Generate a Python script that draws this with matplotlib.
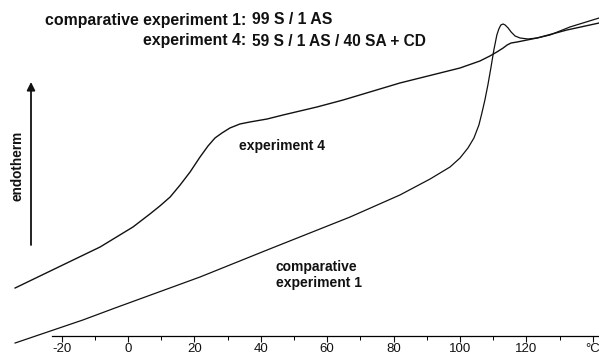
import matplotlib
matplotlib.use("Agg")
import matplotlib.pyplot as plt

plt.rcParams['font.family'] = ['Liberation Sans', 'DejaVu Sans']

# DSC traces: temperature (°C) vs heat flow (arbitrary units, endotherm up)
temp_exp4 = [-34.0, -18.4, -8.4, 1.5, 6.6, 9.6, 12.7, 15.7, 18.7, 21.7, 24.1, 26.2,
             28.3, 30.7, 33.7, 36.7, 41.9, 46.7, 56.9, 64.8, 81.9, 100.0, 106.0,
             109.0, 111.1, 113.0, 114.2, 115.4, 117.2, 120.2, 123.2, 132.2, 141.9]
flow_exp4 = [0.48, 0.73, 0.89, 1.09, 1.22, 1.30, 1.39, 1.51, 1.64, 1.79, 1.90, 1.98,
             2.03, 2.08, 2.12, 2.14, 2.17, 2.21, 2.29, 2.36, 2.53, 2.68, 2.75,
             2.80, 2.84, 2.88, 2.91, 2.93, 2.94, 2.96, 2.98, 3.06, 3.13]

temp_comp1 = [-34.0, -13.6, -3.9, 21.7, 41.9, 66.9, 81.9, 91.0, 97.0, 100.0, 102.4,
              104.2, 105.7, 106.6, 107.5, 108.4, 109.3, 110.2, 111.1, 111.7, 112.3,
              113.0, 113.6, 114.5, 115.4, 116.6, 118.1, 120.5, 123.2, 127.1, 133.1, 141.9]
flow_comp1 = [-0.07, 0.16, 0.28, 0.59, 0.86, 1.19, 1.41, 1.57, 1.69, 1.78, 1.88,
              1.98, 2.11, 2.23, 2.36, 2.51, 2.68, 2.86, 3.01, 3.07, 3.11,
              3.12, 3.11, 3.08, 3.04, 3.00, 2.98, 2.97, 2.98, 3.01, 3.09, 3.18]

major_ticks = [-20, 0, 20, 40, 60, 80, 100, 120, 140]
major_labels = ['-20', '0', '20', '40', '60', '80', '100', '120', '°C']
minor_ticks = [-10, 10, 30, 50, 70, 90, 110, 130]

W, H = 599, 356
fig = plt.figure(figsize=(W / 100, H / 100), dpi=100)
ax = fig.add_axes([0, 0, 1, 1])
ax.set_xlim(-38.55, 141.87)
ax.set_ylim(-0.20, 3.36)

ax.plot(temp_exp4, flow_exp4, color='#111111', lw=1.0, solid_joinstyle='round')
ax.plot(temp_comp1, flow_comp1, color='#111111', lw=0.9, solid_joinstyle='round')

for s in ['left', 'right', 'top']:
    ax.spines[s].set_visible(False)
ax.spines['bottom'].set_position(('data', 0))
ax.spines['bottom'].set_bounds(-23, 142)
ax.spines['bottom'].set_linewidth(0.9)
ax.set_yticks([])
ax.set_xticks(major_ticks)
ax.set_xticklabels(major_labels)
ax.set_xticks(minor_ticks, minor=True)
ax.tick_params(axis='x', which='major', direction='out', length=4.5, width=0.8,
               pad=0.5, labelsize=9.5, colors='#111111')
ax.tick_params(axis='x', which='minor', direction='out', length=3, width=0.7)


def px(x, y):
    return x / W, 1 - y / H


bold = dict(fontweight='bold', color='#111111')

fig.text(*px(246, 20), 'comparative experiment 1:', ha='right', va='center',
         fontsize=11.4, **bold)
fig.text(*px(252, 20), '99 S / 1 AS', ha='left', va='center', fontsize=11.4, **bold)
fig.text(*px(246, 41), 'experiment 4:', ha='right', va='center', fontsize=11.4, **bold)
fig.text(*px(252, 41), '59 S / 1 AS / 40 SA + CD', ha='left', va='center',
         fontsize=11.2, **bold)

fig.text(*px(239, 146), 'experiment 4', ha='left', va='center', fontsize=10, **bold)
fig.text(*px(276, 275), 'comparative\nexperiment 1', ha='left', va='center',
         linespacing=1.15, fontsize=10, **bold)

fig.text(*px(18, 166), 'endotherm', rotation=90, ha='center', va='center',
         fontsize=9.8, **bold)
ax.annotate('', xy=px(31, 82), xytext=px(31, 245), xycoords='figure fraction',
            textcoords='figure fraction',
            arrowprops=dict(arrowstyle='-|>', color='#111111', lw=1.3,
                            mutation_scale=12, shrinkA=0, shrinkB=0))

fig.savefig('out.png', dpi=100)
